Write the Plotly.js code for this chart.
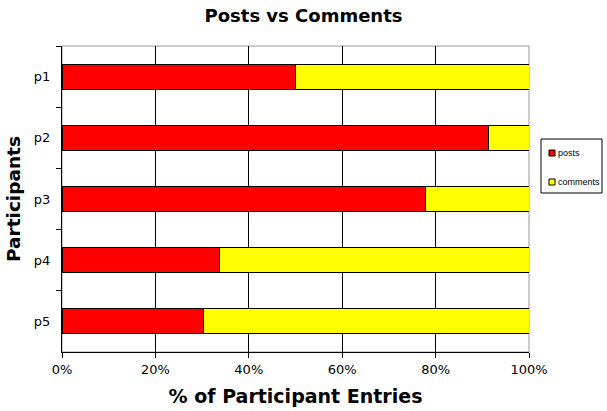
<!DOCTYPE html>
<html>
<head>
<meta charset="utf-8">
<script src="https://cdn.plot.ly/plotly-3.0.1.min.js"></script>
<style>html,body{margin:0;padding:0;background:#fff;}#chart{width:607px;height:411px;}</style>
</head>
<body>
<div id="chart"></div>
<script>
const participants = ["p1", "p2", "p3", "p4", "p5"];
const postsPct = [50.0, 91.4, 77.9, 33.8, 30.4];
const commentsPct = [50.0, 8.6, 22.1, 66.2, 69.6];
const xTickVals = [0, 20, 40, 60, 80, 100];
const xTickText = ["0%", "20%", "40%", "60%", "80%", "100%"];
const seriesNames = ["posts", "comments"];
const seriesColors = ["#ff0000", "#ffff00"];

const traces = [
  {
    type: "bar", orientation: "h", name: seriesNames[0],
    y: participants, x: postsPct,
    marker: {color: seriesColors[0], line: {color: "#000000", width: 1}}
  },
  {
    type: "bar", orientation: "h", name: seriesNames[1],
    y: participants, x: commentsPct,
    marker: {color: seriesColors[1], line: {color: "#000000", width: 1}}
  }
];

// plot area geometry (pixels) for converting the legend box into paper coords
const W = 607, H = 411, L = 62, R = 78, T = 46, B = 59;
const pw = W - L - R, ph = H - T - B;
const px = v => (v - L) / pw;
const py = v => (H - B - v) / ph;

const shapes = [
  {type: "rect", xref: "paper", yref: "paper", x0: 0, x1: 1, y0: 0, y1: 1,
   line: {color: "#999999", width: 1}, layer: "below"},
  // legend box
  {type: "rect", xref: "paper", yref: "paper", x0: px(541), x1: px(602), y0: py(193), y1: py(139),
   line: {color: "#000000", width: 1}, fillcolor: "#ffffff"}
];
const annotations = [];
const legendY = [153, 182];
seriesNames.forEach((n, i) => {
  shapes.push({type: "rect", xref: "paper", yref: "paper",
    x0: px(549), x1: px(555), y0: py(legendY[i] + 3), y1: py(legendY[i] - 3),
    line: {color: "#000000", width: 1}, fillcolor: seriesColors[i]});
  annotations.push({xref: "paper", yref: "paper", x: px(556), y: py(legendY[i]),
    xanchor: "left", yanchor: "middle", showarrow: false, text: n,
    font: {family: "Liberation Sans, Arial, sans-serif", size: 9, color: "#000"}});
});

const layout = {
  width: W, height: H,
  margin: {l: L, r: R, t: T, b: B, autoexpand: false},
  paper_bgcolor: "#ffffff", plot_bgcolor: "#ffffff",
  barmode: "stack", bargap: 0.59,
  font: {family: "DejaVu Sans, Verdana, sans-serif", color: "#000000", size: 12},
  title: {
    text: "<b>Posts vs Comments</b>",
    font: {family: "DejaVu Sans, Verdana, sans-serif", size: 18, color: "#000"},
    x: 0.5, xref: "container", y: 1 - 16/411, yref: "container", yanchor: "middle"
  },
  xaxis: {
    range: [0, 100], tickvals: xTickVals, ticktext: xTickText,
    showgrid: true, gridcolor: "#000000", gridwidth: 1,
    showline: true, linecolor: "#000000", linewidth: 1,
    ticks: "outside", ticklen: 5, tickcolor: "#000000",
    tickfont: {size: 13, family: "DejaVu Sans, Verdana, sans-serif"},
    zeroline: false, fixedrange: true,
    title: {text: "<b>% of Participant Entries</b>", font: {size: 19, family: "DejaVu Sans, Verdana, sans-serif"}, standoff: 14}
  },
  yaxis: {
    type: "category", autorange: "reversed",
    showgrid: false, showline: true, linecolor: "#000000", linewidth: 1,
    ticks: "outside", ticklen: 5, tickcolor: "#000000", tickson: "boundaries",
    ticklabelstandoff: 8,
    tickfont: {size: 13, family: "DejaVu Sans, Verdana, sans-serif"},
    zeroline: false, fixedrange: true,
    title: {text: "<b>Participants</b>", font: {size: 18.5, family: "DejaVu Sans, Verdana, sans-serif"}, standoff: 8}
  },
  shapes: shapes,
  annotations: annotations,
  showlegend: false
};

Plotly.newPlot("chart", traces, layout, {displayModeBar: false, staticPlot: true});
</script>
</body>
</html>
